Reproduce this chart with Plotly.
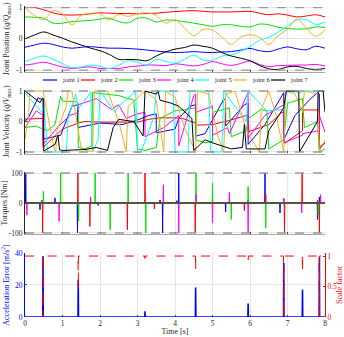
import plotly.graph_objects as go
from plotly.subplots import make_subplots

joints = ["joint 1", "joint 2", "joint 3", "joint 4", "joint 5", "joint 6", "joint 7"]
colors = ["#0000ff", "#ff0000", "#00e000", "#ff00ff", "#00ffff", "#edb120", "#000000"]

# joint positions (q/Qmax), sampled every 0.25 s
pos_t = [i * 0.25 for i in range(33)]
pos = [
    [-0.27, -0.2, -0.14, -0.18, -0.26, -0.3, -0.27, -0.25, -0.28, -0.3, -0.3, -0.31, -0.33, -0.36, -0.39, -0.42, -0.44,
     -0.43, -0.41, -0.43, -0.44, -0.42, -0.41, -0.36, -0.31, -0.38, -0.41, -0.33, -0.26, -0.32, -0.35, -0.24, -0.3],
    [1.0, 1.0, 0.93, 0.83, 0.77, 0.76, 0.77, 0.8, 0.83, 0.82, 0.81, 0.81, 0.8, 0.81, 0.82, 0.85, 0.87,
     0.89, 0.9, 0.88, 0.86, 0.86, 0.86, 0.87, 0.88, 0.82, 0.77, 0.8, 0.76, 0.7, 0.73, 0.77, 0.7],
    [0.7, 0.69, 0.66, 0.5, 0.5, 0.55, 0.57, 0.59, 0.63, 0.66, 0.55, 0.51, 0.66, 0.66, 0.54, 0.6, 0.59,
     0.55, 0.5, 0.45, 0.4, 0.45, 0.45, 0.4, 0.38, 0.47, 0.45, 0.37, 0.33, 0.31, 0.32, 0.38, 0.36],
    [-0.84, -0.8, -0.75, -0.82, -0.9, -0.95, -0.92, -0.9, -0.95, -0.95, -0.95, -0.9, -0.87, -0.84, -0.84, -0.86, -0.8,
     -0.83, -0.87, -0.82, -0.73, -0.8, -0.85, -0.79, -0.71, -0.82, -0.89, -0.86, -0.85, -0.84, -0.84, -0.82, -0.87],
    [-0.73, -0.62, -0.55, -0.66, -0.8, -0.92, -0.9, -0.84, -0.88, -0.95, -0.85, -0.7, -0.75, -0.84, -0.66, -0.72, -0.78,
     -0.66, -0.52, -0.68, -0.68, -0.55, -0.52, -0.4, -0.25, -0.05, 0.05, 0.22, 0.4, 0.61, 0.62, 0.46, 0.53],
    [0.99, 0.75, 0.62, 0.9, 0.8, 0.45, 0.75, 0.82, 0.8, 0.6, 0.78, 0.72, 0.8, 0.83, 0.75, 0.5, 0.61,
     0.35, 0.1, 0.3, 0.28, 0.05, -0.18, 0.05, 0.13, 0.05, -0.18, 0.1, 0.3, 0.63, 0.35, 0.08, 0.29],
    [0.0, 0.12, 0.22, 0.12, 0.02, -0.1, -0.2, -0.3, -0.38, -0.5, -0.66, -0.66, -0.67, -0.7, -0.55, -0.42, -0.33,
     -0.28, -0.2, -0.24, -0.3, -0.44, -0.55, -0.62, -0.7, -0.85, -0.96, -0.98, -0.9, -0.88, -0.95, -0.98, -0.95],
]

# joint velocities (qdot/Vmax)
vel_t = [
    [0, 0.1, 0.35, 0.48, 0.48, 0.8, 0.95, 1.25, 1.4, 1.4, 2.0, 2.6, 3.0, 3.3, 3.5, 3.5, 4.0, 4.1, 4.4, 4.55, 4.55,
     4.8, 5.3, 5.35, 5.35, 5.85, 5.95, 5.95, 6.4, 6.9, 6.9, 7.2, 7.6, 7.8, 7.85, 7.85, 8.0],
    [0, 0.45, 0.48, 0.48, 1.0, 1.42, 1.6, 2.0, 3.0, 3.3, 3.6, 4.0, 4.2, 4.55, 4.6, 5.0, 5.5, 5.9, 5.95, 5.97, 6.5,
     6.85, 6.9, 6.92, 7.3, 7.4, 7.4, 7.8, 7.85, 7.85, 8.0],
    [0, 0.3, 0.48, 0.6, 0.8, 0.95, 1.0, 1.35, 1.42, 1.42, 1.6, 1.78, 1.8, 2.5, 2.9, 3.0, 3.2, 3.5, 3.6, 4.0, 4.3,
     4.55, 4.55, 4.8, 5.0, 5.0, 5.45, 5.5, 5.9, 5.95, 6.3, 6.45, 6.5, 6.9, 7.0, 7.4, 7.45, 7.8, 7.85, 8.0],
    [0, 0.3, 0.48, 0.48, 0.9, 1.2, 1.42, 1.42, 1.9, 2.3, 2.5, 2.7, 3.0, 3.2, 3.2, 3.7, 4.1, 4.1, 4.5, 4.55, 4.55,
     5.0, 5.0, 5.4, 5.45, 5.95, 5.95, 6.4, 6.9, 6.9, 7.4, 7.4, 7.85, 7.85, 8.0],
    [0, 0.45, 0.5, 0.6, 1.1, 1.15, 1.35, 1.42, 1.75, 1.8, 1.95, 2.0, 2.4, 2.5, 2.95, 3.0, 3.1, 3.45, 3.5, 3.95, 4.0,
     4.35, 4.4, 4.9, 4.95, 5.25, 5.3, 5.9, 5.95, 6.45, 6.9, 6.95, 7.35, 7.4, 8.0],
    [0, 0.1, 0.13, 0.48, 0.78, 0.82, 0.85, 1.1, 1.15, 1.25, 1.5, 1.8, 1.85, 2.2, 2.5, 2.7, 2.75, 3.2, 3.5, 3.7, 3.75,
     4.0, 4.25, 4.55, 4.6, 4.9, 5.15, 5.3, 5.35, 5.6, 5.9, 6.25, 6.3, 6.5, 6.7, 6.9, 6.95, 7.2, 7.4, 7.45, 7.8, 7.85, 8.0],
    [0, 0.4, 0.47, 0.5, 0.5, 0.8, 0.88, 0.92, 1.0, 1.6, 1.9, 2.2, 2.35, 2.5, 2.9, 3.15, 3.2, 3.5, 3.55, 3.6, 3.9,
     4.1, 4.45, 4.5, 4.8, 5.0, 5.5, 5.8, 5.85, 5.9, 6.4, 6.5, 6.9, 6.97, 7.3, 7.32, 7.8, 7.82, 7.95, 8.0],
]
vel = [
    [0.0, 0.15, 0.78, 0.7, -0.58, -0.48, -0.45, 0.5, 0.55, -0.2, -0.05, -0.1, 0.05, 0.2, 0.25, -0.37, -0.25, 0.1, 0.5,
     0.55, -0.48, -0.4, 0.73, 0.7, -0.15, 0.55, 0.6, -0.75, -0.1, 0.95, -0.6, 0.2, 0.73, 0.95, 0.9, -0.9, -0.7],
    [0.08, 0.1, 0.1, -0.85, -0.25, -0.05, 0.0, -0.02, -0.02, 0.07, 0.12, 0.12, 0.1, -0.05, -0.12, -0.1, 0.05, 0.2,
     0.2, -0.33, -0.1, 0.3, 0.3, -0.72, -0.38, -0.3, 0.38, 0.38, 0.38, -0.83, -0.7],
    [-0.2, -0.15, -0.25, -0.3, -0.1, 0.83, 0.67, 0.65, 0.6, -0.85, -0.9, -0.8, 0.95, 0.85, 0.7, -0.9, -0.95, -0.85,
     0.1, 0.35, 0.4, 0.45, -0.6, -0.7, -0.65, 0.3, 0.45, -0.5, -0.3, 0.1, 0.4, 0.35, -0.9, -0.6, 0.6, 0.75, -0.2, 0.0,
     -1.0, -0.9],
    [-0.2, 0.35, 0.2, -0.75, -0.15, 0.2, 0.3, 0.55, 0.75, 0.4, 0.55, 0.1, 0.25, 0.3, -0.5, -0.2, 0.2, -0.8, 0.85, 0.9,
     0.3, 0.5, -0.45, -0.2, -0.4, 0.95, -0.55, 0.2, 0.55, -0.7, -0.45, -0.4, -0.3, 0.2, -0.35],
    [0.95, 0.3, 0.55, -1.0, -1.0, 0.1, 0.9, 0.4, 0.95, -1.0, -0.6, 1.0, 0.3, 0.5, 1.0, -1.0, -1.0, 0.2, 1.0, 1.0, -1.0,
     -1.0, 1.0, 1.0, -1.0, -1.0, 1.0, 0.0, 1.0, 0.35, 0.4, 1.0, 0.95, 1.0, 1.0],
    [-0.6, 0.3, 1.0, 1.0, -0.9, -1.0, -0.3, 0.5, 1.0, 1.0, -0.9, -1.0, 1.0, 1.0, 0.0, -1.0, 0.5, 1.0, 0.7, -1.0, 1.0,
     0.8, -0.2, -1.0, 1.0, 0.9, -0.5, -1.0, 0.9, 1.0, -0.3, -1.0, 0.4, 1.0, 0.2, -1.0, 1.0, 0.9, 0.3, 1.0, 0.9, -1.0,
     -0.6],
    [1.0, 0.62, 0.78, 0.7, -0.97, -0.75, -0.45, -0.93, -0.95, -0.92, -0.85, -0.95, -0.2, 0.07, 0.0, -0.47, 1.0, 0.9,
     1.0, 0.7, 0.6, 0.5, 0.1, -0.95, -0.6, -0.7, -0.9, -0.85, -0.1, -0.9, -0.9, -0.3, 0.45, 1.0, 1.0, -1.0, 0.0, 1.0,
     1.0, 0.3],
]

# torque spikes [Nm]: time and peak value per joint
torque_t = [
    [0.02, 0.4, 0.8, 1.4, 1.95, 3.6, 3.67, 4.05, 4.1, 4.55, 5.35, 5.95, 6.4, 6.8, 6.9, 7.8, 7.85],
    [0.45, 0.47, 1.41, 1.73, 2.73, 3.2, 3.45, 4.54, 5.85, 6.42, 6.92, 7.39, 7.8, 7.85],
    [0.49, 0.95, 1.43, 1.87, 2.27, 2.75, 3.22, 4.56, 5.0, 5.5, 5.95, 6.42, 7.82],
    [0.05, 0.91, 1.75, 3.69, 4.1, 4.56, 5.0, 5.45, 5.95, 6.9, 7.38, 7.88],
    [0.5, 3.2, 6.9],
    [1.4, 4.55, 7.4],
    [0.5, 5.95],
]
torque_v = [
    [100, -22, 17, -100, -8, 10, -100, 8, 100, 10, -30, 10, 100, -33, 15, -55, 20],
    [10, -100, 100, -78, -89, 100, -20, -100, -25, 30, -100, 100, 10, -100],
    [39, 100, -60, 100, -89, 100, -100, 100, 67, -55, 55, -83, -40],
    [-40, -61, 20, 61, -100, 30, -67, 35, -100, 15, -33, 28],
    [5, -5, 4],
    [-4, 5, -4],
    [1, -1],
]

# acceleration error [m/s^2] and scale factor at the limiting events
event_t = [0.48, 1.42, 3.2, 4.55, 5.95, 6.9, 7.4, 7.85]
acc_err = [38, 23, 3.5, 18.5, 8.5, 34, 17, 37.5]
scale = [0.0, 0.45, 0.96, 0.77, 0.91, 0.0, 0.74, 0.0]

x_ticks = [0, 1, 2, 3, 4, 5, 6, 7, 8]


def spike_line(times, peaks, base=0.0, half=0.012):
    xs, ys = [0.0], [base]
    for t, v in sorted(zip(times, peaks)):
        xs += [t - half, t, t + half]
        ys += [base, v, base]
    xs.append(8.0)
    ys.append(base)
    return xs, ys


FONT = "Liberation Serif"
TITLE_SIZE = 8
fig = make_subplots(rows=4, cols=1, shared_xaxes=True,
                    specs=[[{}], [{}], [{}], [{"secondary_y": True}]])

for j in range(7):
    fig.add_trace(go.Scatter(x=pos_t, y=pos[j], mode="lines", line=dict(color=colors[j], width=1, shape="spline"),
                             name=joints[j], showlegend=False), row=1, col=1)
for j in range(7):
    fig.add_trace(go.Scatter(x=vel_t[j], y=vel[j], mode="lines", line=dict(color=colors[j], width=1),
                             name=joints[j], showlegend=False), row=2, col=1)
for j in range(7):
    tx, ty = spike_line(torque_t[j], torque_v[j], half=0.008)
    fig.add_trace(go.Scatter(x=tx, y=ty, mode="lines", line=dict(color=colors[j], width=1.2 if j == 6 else 1),
                             name=joints[j], showlegend=False), row=3, col=1)

ax, ay = spike_line(event_t, acc_err, half=0.006)
fig.add_trace(go.Scatter(x=ax, y=ay, mode="lines", line=dict(color="#0000ff", width=1.6), showlegend=False),
              row=4, col=1, secondary_y=False)
sx, sy = spike_line(event_t, scale, base=1.0, half=0.006)
fig.add_trace(go.Scatter(x=sx, y=sy, mode="lines", line=dict(color="#ff0000", width=1, dash="dash"),
                         showlegend=False), row=4, col=1, secondary_y=True)

# gray limit lines
for yref, lim in [("y", 1), ("y2", 1), ("y3", 100)]:
    for v in (lim, -lim):
        fig.add_shape(type="line", xref="x", yref=yref, x0=0, x1=8, y0=v, y1=v,
                      line=dict(color="#9a9a9a", width=1.3, dash="dash"))

# legend drawn between the first two panels
leg_y = (317 - 80) / 311
for j in range(7):
    x0 = (43 + 38 * j - 25) / 300
    fig.add_shape(type="line", xref="paper", yref="paper", x0=x0, x1=x0 + 14 / 300, y0=leg_y, y1=leg_y,
                  line=dict(color=colors[j], width=1.2))
    fig.add_annotation(xref="paper", yref="paper", x=x0 + 17 / 300, y=leg_y, text=joints[j], showarrow=False,
                       xanchor="left", yanchor="middle", font=dict(family=FONT, size=6.5, color="#222"))

domains = [[0.789, 1.0], [0.5257, 0.7315], [0.2653, 0.4678], [0.0, 0.2058]]
axis_common = dict(showgrid=True, gridcolor="#e6e6e6", gridwidth=0.8, ticks="inside", ticklen=2, automargin=False,
                   tickfont=dict(family=FONT, size=7.5, color="#262626"), zeroline=False)
for i in range(4):
    fig.update_xaxes(domain=[0, 1], range=[0, 8], tickvals=x_ticks, showticklabels=(i == 3), showline=(i < 3),
                     linecolor="#a8a8a8", linewidth=1.2, row=i + 1, col=1, **axis_common)

fig.update_layout(
    yaxis=dict(domain=domains[0], range=[-1.05, 1.05], tickvals=[-1, 0, 1], ticktext=["-1", "0", "1"],
               title=dict(text="Joint Position (<i>q</i>/<i>Q</i><sub>max</sub>)", standoff=5,
                          font=dict(family=FONT, size=TITLE_SIZE, color="#262626")),
               showline=True, linecolor="#262626", linewidth=0.8, **axis_common),
    yaxis2=dict(domain=domains[1], range=[-1.05, 1.05], tickvals=[-1, 0, 1], ticktext=["-1", "0", "1"],
                title=dict(text="Joint Velocity (<i>q̇</i>/<i>V</i><sub>max</sub>)", standoff=5,
                           font=dict(family=FONT, size=TITLE_SIZE, color="#262626")),
                showline=True, linecolor="#262626", linewidth=0.8, **axis_common),
    yaxis3=dict(domain=domains[2], range=[-105, 105], tickvals=[-100, 0, 100], ticktext=["-100", "0", "100"],
                title=dict(text="Torques [Nm]", standoff=1, font=dict(family=FONT, size=TITLE_SIZE, color="#262626")),
                showline=True, linecolor="#262626", linewidth=0.8, **axis_common),
    xaxis4=dict(title=dict(text="Time [s]", standoff=0, font=dict(family=FONT, size=TITLE_SIZE, color="#262626"))),
    width=344, height=337,
    margin=dict(l=25, r=19, t=6, b=20),
    paper_bgcolor="white", plot_bgcolor="white",
    showlegend=False,
)
fig.update_yaxes(domain=domains[3], range=[0, 40], tickvals=[0, 20, 40], row=4, col=1, secondary_y=False,
                 title=dict(text="Acceleration Error [m/s<sup>2</sup>]", standoff=4,
                            font=dict(family=FONT, size=TITLE_SIZE, color="#0000ff")),
                 showline=True, linecolor="#0000ff", linewidth=0.8,
                 **{**axis_common, "tickfont": dict(family=FONT, size=7.5, color="#0000ff")})
fig.update_yaxes(range=[0, 1.05], tickvals=[0, 0.5, 1], row=4, col=1, secondary_y=True, showgrid=False,
                 ticks="inside", ticklen=2, zeroline=False, showline=True, linecolor="#ff0000", linewidth=0.8,
                 automargin=False, tickfont=dict(family=FONT, size=7.5, color="#ff0000"),
                 title=dict(text="Scale factor", standoff=3, font=dict(family=FONT, size=TITLE_SIZE, color="#ff0000")))

# drop the default page margin so the 344x337 figure fills the window
fig.write_html("out.html", config={"displayModeBar": False},
               post_script="document.body.style.margin='0';")
